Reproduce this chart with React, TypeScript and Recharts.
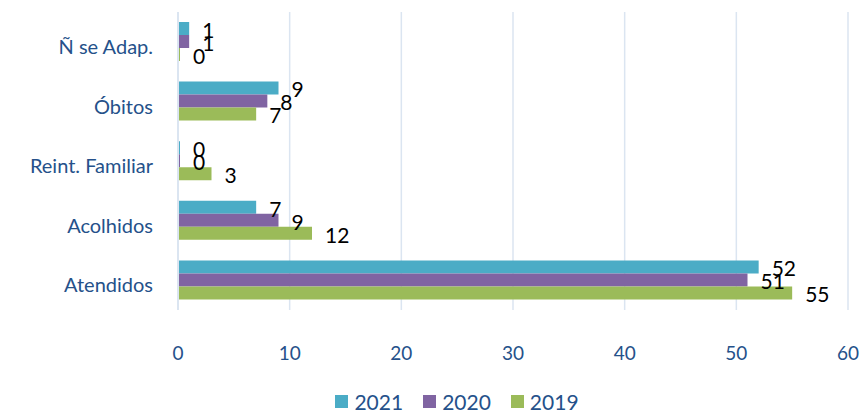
import { Bar, BarChart, CartesianGrid, LabelList, Legend, XAxis, YAxis } from "recharts";

const CATEGORIES = ["Ñ se Adap.", "Óbitos", "Reint. Familiar", "Acolhidos", "Atendidos"];
const VALUES_2021 = [1, 9, 0, 7, 52];
const VALUES_2020 = [1, 8, 0, 9, 51];
const VALUES_2019 = [0, 7, 3, 12, 55];
const X_TICKS = [0, 10, 20, 30, 40, 50, 60];
const SERIES = [
  { key: "y2021", label: "2021", color: "#4bacc6" },
  { key: "y2020", label: "2020", color: "#8064a2" },
  { key: "y2019", label: "2019", color: "#9bbb59" },
];

const TEXT_BLUE = "#25518a";
const GRID = "#dbe5f1";
const FONT = "Lato, 'Open Sans', sans-serif";

const rows = CATEGORIES.map((name, i) => ({
  name,
  y2021: VALUES_2021[i],
  y2020: VALUES_2020[i],
  y2019: VALUES_2019[i],
}));

const ValueLabel = function ValueLabel(props: any) {
  const { x, y, width, height, value } = props;
  return (
    <text
      x={Number(x) + Number(width) + 13}
      y={Number(y) + Number(height) / 2 + 4}
      dominantBaseline="middle"
      textAnchor="start"
      fill="#000"
      fontSize={21}
      fontFamily={FONT}
    >
      {value}
    </text>
  );
};

const YearLegend = function YearLegend() {
  return (
    <div
      style={{
        display: "flex",
        justifyContent: "center",
        gap: 20,
        fontFamily: FONT,
        fontSize: 21,
        color: TEXT_BLUE,
        paddingLeft: 66,
      }}
    >
      {SERIES.map((s) => (
        <span key={s.key} style={{ display: "inline-flex", alignItems: "center", gap: 6 }}>
          <span style={{ width: 13, height: 13, background: s.color, display: "inline-block" }} />
          {s.label}
        </span>
      ))}
    </div>
  );
};

export default function App() {
  return (
    <div style={{ position: "absolute", left: 0, top: 0, background: "#fff" }}>
      <BarChart
        width={866}
        height={417}
        data={rows}
        layout="vertical"
        margin={{ top: 12, right: 18, bottom: 0, left: 0 }}
        barGap={0}
        barSize={13}
      >
        <CartesianGrid horizontal={false} stroke={GRID} strokeWidth={1.5} />
        <XAxis
          type="number"
          domain={[0, 60]}
          ticks={X_TICKS}
          interval={0}
          axisLine={false}
          tickLine={false}
          tickSize={0}
          tickMargin={37}
          height={79}
          tick={{ fill: TEXT_BLUE, fontSize: 19, fontFamily: FONT }}
        />
        <YAxis
          type="category"
          dataKey="name"
          width={178}
          axisLine={{ stroke: GRID, strokeWidth: 2 }}
          tickLine={false}
          tickSize={0}
          tickMargin={25}
          dy={5}
          tick={{ fill: TEXT_BLUE, fontSize: 20, fontFamily: FONT }}
        />
        <Legend verticalAlign="bottom" height={28} content={YearLegend} />
        {SERIES.map((s) => (
          <Bar
            key={s.key}
            dataKey={s.key}
            name={s.label}
            fill={s.color}
            minPointSize={2}
            isAnimationActive={false}
          >
            <LabelList dataKey={s.key} content={ValueLabel} />
          </Bar>
        ))}
      </BarChart>
    </div>
  );
}
